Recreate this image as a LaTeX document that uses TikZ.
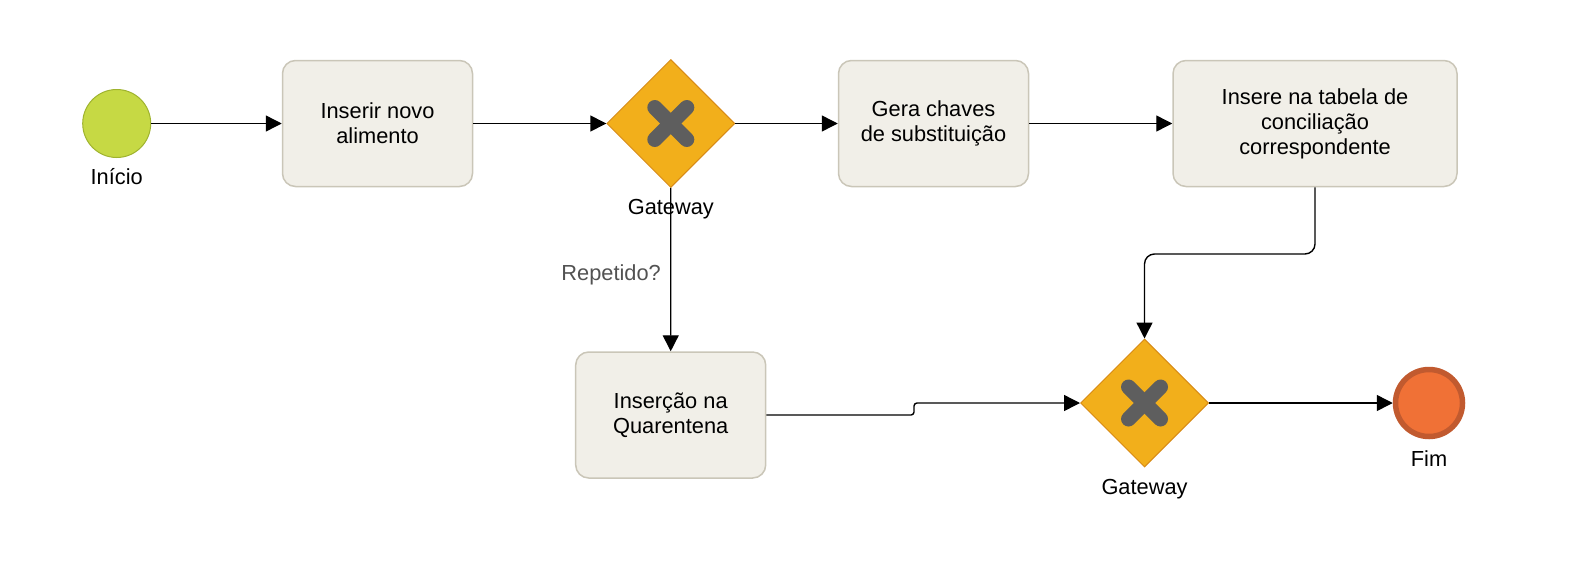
\documentclass[tikz,border=0pt]{standalone}
\usepackage{fontspec}
\setmainfont{Liberation Sans}
\usetikzlibrary{shapes.geometric,arrows.meta}

\definecolor{startfill}{HTML}{C6D944}
\definecolor{startline}{HTML}{9FB32E}
\definecolor{taskfill}{HTML}{F1EFE8}
\definecolor{taskline}{HTML}{CAC6B8}
\definecolor{gatefill}{HTML}{F2AF1B}
\definecolor{gateline}{HTML}{D88A14}
\definecolor{crossgray}{HTML}{5E5E5E}
\definecolor{endfill}{HTML}{F07136}
\definecolor{endline}{HTML}{C15A2F}

\begin{document}
\begin{tikzpicture}[
  x=1pt, y=-1pt,
  every node/.style={font=\fontsize{21.8}{25}\selectfont},
  task/.style={draw=taskline, fill=taskfill, rectangle, rounded corners=13pt,
    line width=1.5pt, minimum width=190pt, minimum height=126pt, align=center},
  gateway/.style={draw=gateline, fill=gatefill, diamond, inner sep=0pt,
    minimum width=128pt, minimum height=128pt, line width=1pt},
  startevent/.style={draw=startline, fill=startfill, circle, line width=1pt,
    minimum size=68pt, inner sep=0pt},
  endevent/.style={draw=endline, fill=endfill, circle, line width=5.5pt,
    minimum size=67pt, inner sep=0pt},
  lbl/.style={anchor=base, inner sep=0pt},
  cond/.style={anchor=base east, inner sep=0pt, text=black!68},
  flow/.style={draw, -{Triangle[length=16pt,width=16pt]}, line width=1.4pt},
  cross/.style={draw=crossgray, line width=15pt, line cap=round}
]
\useasboundingbox (0,0) rectangle (1592,576);

\node[startevent] (start) at (116.7,123.5) {};
\node[lbl] (startlbl) at (116.7,184) {Início};
\node[task] (insert) at (377.5,123.5) {Inserir novo \\ alimento};
\node[gateway] (gw1) at (670.8,123.5) {};
\node[lbl] (gw1lbl) at (670.8,214) {Gateway};
\node[task] (keys) at (933.5,123.5) {Gera chaves \\ de substituição};
\node[task, minimum width=284pt] (table) at (1315,123.5)
  {Insere na tabela de \\ conciliação \\ correspondente};
\node[task] (quarantine) at (670.7,415) {Inserção na \\ Quarentena};
\node[gateway] (gw2) at (1144.5,403) {};
\node[lbl] (gw2lbl) at (1144.5,494) {Gateway};
\node[endevent] (finish) at (1429,403) {};
\node[lbl] (finishlbl) at (1429,466) {Fim};
\node[cond] (repeated) at (661,280) {Repetido?};

% marks inside the gateways
\foreach \g in {gw1,gw2} {
  \draw[cross] ([shift={(-16,-16)}]\g.center) -- ([shift={(16,16)}]\g.center);
  \draw[cross] ([shift={(-16,16)}]\g.center) -- ([shift={(16,-16)}]\g.center);
}

\coordinate (bend) at (1230,254);
\coordinate (jog) at (914,409);

\draw[flow] (start) -- (insert);
\draw[flow] (insert) -- (gw1);
\draw[flow] (gw1) -- (keys);
\draw[flow] (keys) -- (table);
\draw[flow] (gw1) -- (quarantine);
\draw[flow, rounded corners=10pt] (table.south) |- (bend) -| (gw2.north);
\draw[flow, rounded corners=3pt] (quarantine.east) -| (jog) |- (gw2.west);
\draw[flow] (gw2) -- (finish);

\end{tikzpicture}
\end{document}
